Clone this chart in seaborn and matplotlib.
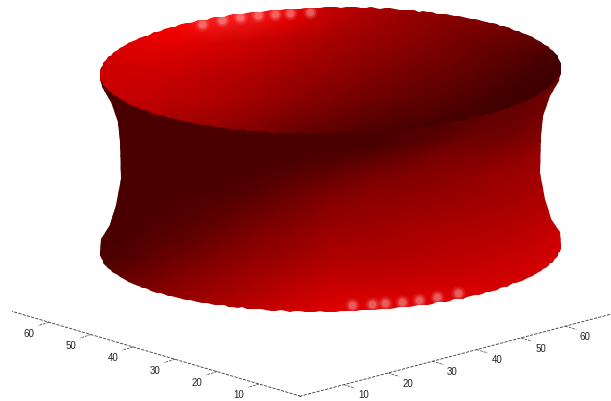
import matplotlib
matplotlib.use('Agg')
import matplotlib.pyplot as plt
from matplotlib.patches import Polygon
import numpy as np
import seaborn as sns

# values
tick_values = [10, 20, 30, 40, 50, 60]
wall_angle = [0, 10, 20, 30, 40, 50, 60, 70, 80, 90, 100, 110, 120, 130, 140, 150, 160, 170, 180]
wall_height = [0, 2.1, 4.4, 7.75, 12.1, 18.25, 21.6, 24.9, 27.4, 29.67]
wall_radius = [38, 37.9, 36.4, 35.4, 34.6, 34.7, 35.1, 36.2, 37.6, 38]
# outer wall shade (percent of full red), one row per height, bottom first
outer_shade = [
    [85, 85, 85, 85, 85, 86, 90, 92, 92, 90, 84, 76, 68, 62, 54, 46, 40, 36, 36],
    [84, 83, 82, 82, 82, 83, 85, 85, 85, 84, 78, 70, 62, 55, 46, 38, 32, 30, 30],
    [78, 78, 78, 78, 78, 78, 78, 78, 78, 78, 72, 65, 58, 50, 42, 34, 30, 29, 29],
    [70, 71, 72, 72, 72, 72, 72, 71, 70, 70, 64, 58, 50, 42, 36, 31, 29, 29, 29],
    [64, 65, 66, 66, 66, 66, 66, 65, 63, 62, 56, 50, 42, 35, 31, 29, 29, 29, 29],
    [58, 59, 60, 60, 60, 58, 57, 56, 55, 52, 44, 36, 31, 29, 29, 29, 29, 29, 29],
    [52, 51, 50, 52, 53, 53, 53, 50, 48, 42, 36, 31, 29, 29, 29, 29, 29, 29, 29],
    [48, 47, 47, 46, 44, 46, 47, 42, 38, 33, 30, 29, 29, 29, 29, 29, 29, 29, 29],
    [44, 44, 44, 43, 42, 42, 38, 34, 30, 29, 29, 29, 29, 29, 29, 29, 29, 29, 29],
    [42, 42, 42, 40, 38, 36, 32, 30, 29, 29, 29, 29, 29, 29, 29, 29, 29, 29, 29],
]
# inside of the rim, columns as wall_angle, rows from back rim to front rim
inner_row = [0, 0.25, 0.5, 0.75, 1]
inner_shade = [
    [30, 36, 40, 42, 46, 50, 55, 60, 68, 78, 98, 112, 112, 100, 92, 86, 82, 80, 80],
    [28, 28, 28, 32, 38, 42, 48, 54, 60, 66, 74, 80, 84, 86, 86, 84, 81, 80, 80],
    [27, 26, 26, 28, 32, 36, 42, 46, 52, 58, 64, 70, 74, 78, 80, 80, 80, 80, 80],
    [26, 25, 25, 25, 26, 30, 34, 38, 42, 48, 54, 62, 68, 72, 76, 78, 80, 80, 80],
    [26, 25, 25, 25, 25, 26, 26, 28, 30, 34, 40, 50, 58, 64, 70, 75, 78, 80, 80],
]
# shiny spots along the two rims
front_spot_angle = [84.6, 79.6, 76.3, 71.8, 67.4, 62.5, 56.4]
back_spot_angle = [236, 242, 247, 251.7, 256, 260, 265]
front_spot_height = 1.0
back_spot_height = 29.0
# saw edge of the rims, repeats every 5 degrees
rim_tooth = [0, 0.06, 0.16, 0.06]

sns.set_style('white')
plt.rcParams['font.family'] = ['Liberation Sans']
reds = sns.blend_palette(['#000000', '#ff0000', '#ffffff'], as_cmap=True)

fig, ax = plt.subplots(figsize=(6.11, 4.02), dpi=100)
ax.set_position([0, 0, 1, 1])
ax.set_xlim(0, 611)
ax.set_ylim(402, 0)
ax.axis('off')

# view of the surface
def project(angle, height, radius):
    t = np.radians(angle)
    x = 330.5 + 6.066 * radius * np.cos(t)
    y = 249.5 - 6 * height + 1.67 * radius * np.sin(t) - 0.09 * radius * np.cos(t)
    return x, y

angle = np.array(wall_angle, dtype=float)
height = np.array(wall_height)
radius = np.array(wall_radius)
top = wall_height[-1]
rim = wall_radius[-1]
over = 1.03  # meshes are a bit too big, the outlines below cut them

# fine outlines
fine = np.arange(0, 180.01, 1.25)
teeth = np.resize(rim_tooth, len(fine))
front_top = np.c_[project(fine, top + teeth, rim)]
front_under = np.c_[project(fine, top + teeth - 0.5, rim)]
back_top = np.c_[project(360 - fine, top - teeth, rim)]
front_low = np.c_[project(fine, teeth, rim)]
left_side = np.c_[project(180, height, radius)]
right_side = np.c_[project(0, height, radius)]

inner_clip = Polygon(np.r_[back_top, front_under[::-1]], transform=ax.transData)
outer_clip = Polygon(np.r_[front_low, left_side, front_top[::-1], right_side[::-1]], transform=ax.transData)

# inside of the rim
bx, by = project(360 - angle, top, rim * over)
fx, fy = project(angle, top - 0.5, rim * over)
rows = np.array(inner_row)[:, None]
inner = ax.pcolormesh(np.tile(bx, (5, 1)), by + rows * (fy - by), np.array(inner_shade),
                      shading='gouraud', cmap=reds, vmin=0, vmax=200)
inner.set_clip_path(inner_clip)

# outer wall
mesh_height = height.copy()
mesh_height[0] -= 1
mesh_height[-1] += 1.5
aa, hh = np.meshgrid(angle, mesh_height)
rr = np.tile(radius[:, None] * over, (1, len(angle)))
wx, wy = project(aa, hh, rr)
outer = ax.pcolormesh(wx, wy, np.array(outer_shade), shading='gouraud', cmap=reds, vmin=0, vmax=200)
outer.set_clip_path(outer_clip)

# shiny spots
sx1, sy1 = project(np.array(front_spot_angle), front_spot_height, rim)
sx2, sy2 = project(np.array(back_spot_angle), back_spot_height, rim)
sx = np.r_[sx1, sx2]
sy = np.r_[sy1, sy2]
for size, alpha in [(110, 0.08), (60, 0.14), (28, 0.2)]:
    sns.scatterplot(x=sx, y=sy, s=size, color='white', alpha=alpha, linewidth=0, ax=ax)

# floor axes
axes_def = [((301, 397.3), (-4.2, -1.235), 68.8, (-11, 3.4), (-20, 10.4)),
            ((299.5, 397.4), (4.43, -1.17), 70.3, (11, 3.3), (20, 9.7))]
for origin, step, length, tick, lab in axes_def:
    ox, oy = origin
    sns.lineplot(x=[ox, ox + step[0] * length], y=[oy, oy + step[1] * length], sort=False,
                 estimator=None, color='#333333', linewidth=0.6, linestyle='--', ax=ax)
    for v in tick_values:
        tx = ox + step[0] * v
        ty = oy + step[1] * v
        ax.plot([tx, tx + tick[0]], [ty, ty + tick[1]], color='#333333', lw=0.5, ls='--')
        ax.text(tx + lab[0], ty + lab[1], str(v), fontsize=7, ha='center', va='center', color='#222222')

fig.savefig('out.png', dpi=100)
